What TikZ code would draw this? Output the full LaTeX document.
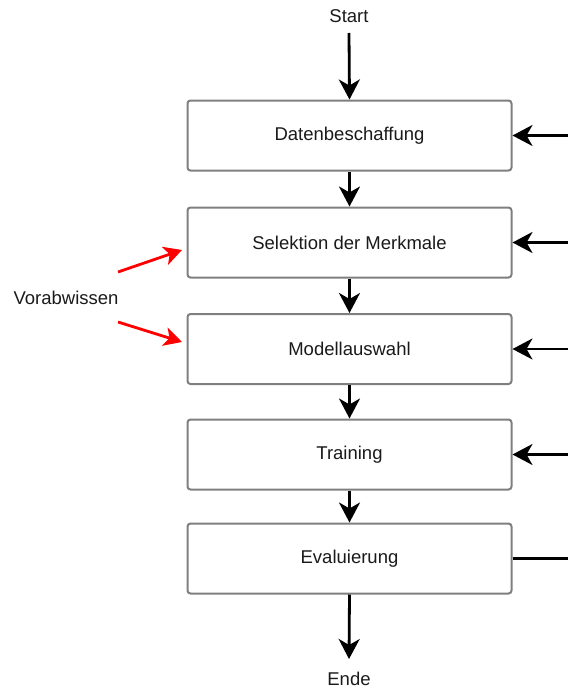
\documentclass[tikz,border=0pt]{standalone}
\usepackage{fontspec}
\setmainfont{Liberation Sans}
\usetikzlibrary{arrows.meta}
\definecolor{boxgray}{HTML}{7F7F7F}
\definecolor{txt}{HTML}{1A1A1A}
\begin{document}
\begin{tikzpicture}[x=1pt,y=-1pt,
  font=\fontsize{18.5}{22}\selectfont,
  stepbox/.style={draw=boxgray, line width=2pt, rounded corners=3pt,
    minimum width=324pt, minimum height=70pt, inner sep=0pt, fill=white, text=txt},
  lbl/.style={inner sep=0pt, text=txt},
  flow/.style={line width=2.8pt, -{Stealth[length=20pt,width=21pt,inset=6pt]}},
  redflow/.style={draw=red, line width=2.8pt, -{Stealth[length=18pt,width=19pt,inset=5pt]}},
  plain/.style={line width=2.8pt}]
\useasboundingbox (0,0) rectangle (568,688);
\node[stepbox] (b1) at (349.5,135.5) {Datenbeschaffung};
\node[stepbox] (b2) at (349.5,242.5) {Selektion der Merkmale};
\node[stepbox] (b3) at (349.5,349) {Modellauswahl};
\node[stepbox] (b4) at (349.5,454.5) {Training};
\node[stepbox] (b5) at (349.5,558.5) {Evaluierung};
\node[lbl] (start) at (349,16) {Start};
\node[lbl] (ende) at (349,679) {Ende};
\node[lbl] (vor) at (66,298) {Vorabwissen};
\coordinate (s0) at (349,33);
\coordinate (e0) at (349,659);
\draw[flow] (s0) -- (b1.north);
\draw[flow] (b1) -- (b2);
\draw[flow] (b2) -- (b3);
\draw[flow] (b3) -- (b4);
\draw[flow] (b4) -- (b5);
\draw[flow] (b5.south) -- (e0);
\coordinate (r1) at (568,135.5);
\coordinate (r2) at (568,242.5);
\coordinate (r3) at (568,349);
\coordinate (r4) at (568,454.5);
\coordinate (r5) at (568,558.5);
\draw[flow] (r1) -- (b1.east);
\draw[flow] (r2) -- (b2.east);
\draw[flow] (r3) -- (b3.east);
\draw[flow] (r4) -- (b4.east);
\draw[plain] (b5.east) -- (r5);
\coordinate (v1a) at (118,272);
\coordinate (v1b) at (182,250);
\coordinate (v2a) at (118,322);
\coordinate (v2b) at (182,342);
\draw[redflow] (v1a) -- (v1b);
\draw[redflow] (v2a) -- (v2b);
\end{tikzpicture}
\end{document}
